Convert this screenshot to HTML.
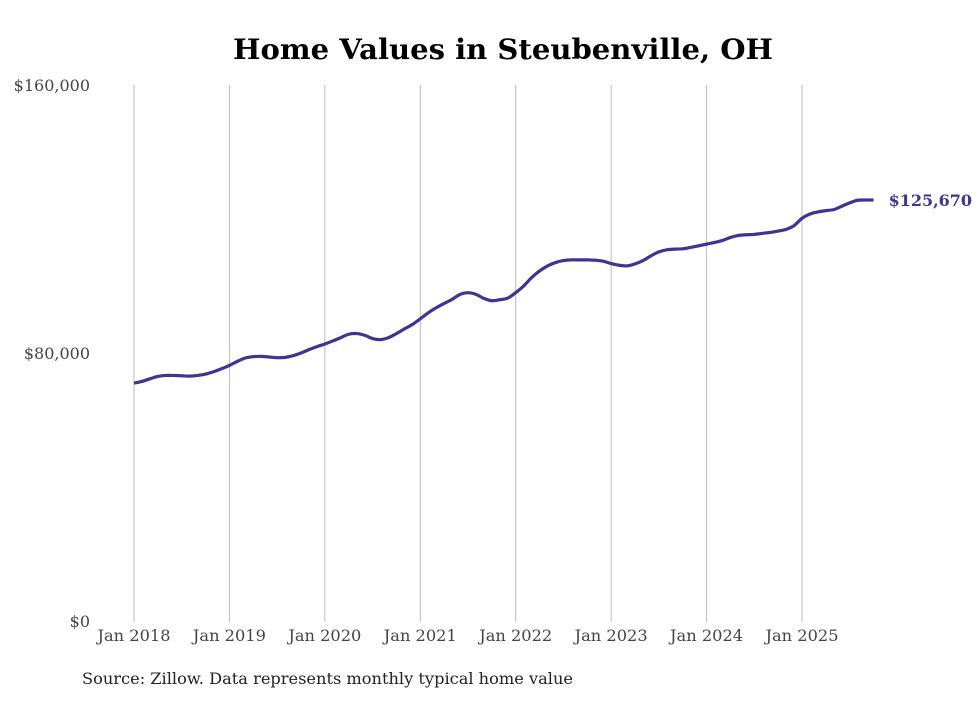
<!DOCTYPE html>
<html><head><meta charset="utf-8"><style>
body{margin:0;background:#fff;}
svg text{font-family:"DejaVu Serif","Liberation Serif",serif;}
</style></head><body>
<svg width="980" height="699" viewBox="0 0 980 699">
<text x="503" y="59" text-anchor="middle" font-size="28" font-weight="bold" fill="#000" textLength="540" lengthAdjust="spacingAndGlyphs">Home Values in Steubenville, OH</text>
<g id="grid"></g>
<g id="yax"></g>
<g id="xax"></g>
<path id="line" fill="none" stroke="#3d3494" stroke-width="3.2" stroke-linejoin="round"/>
<text id="endlabel" font-size="16" font-weight="bold" fill="#3d3494"></text>
<text x="82" y="684" font-size="16" fill="#222" textLength="491" lengthAdjust="spacingAndGlyphs">Source: Zillow. Data represents monthly typical home value</text>
</svg>
<script>
const xTickLabels = ["Jan 2018","Jan 2019","Jan 2020","Jan 2021","Jan 2022","Jan 2023","Jan 2024","Jan 2025"];
const yTickValues = [0, 80000, 160000];
const yTickLabels = ["$0","$80,000","$160,000"];
const values = [
71.0,71.5,72.3,73.0,73.3,73.3,73.2,73.1,73.3,73.7,74.4,75.3,
76.3,77.5,78.5,78.9,79.0,78.8,78.6,78.7,79.2,80.0,81.0,81.9,
82.7,83.6,84.6,85.6,85.8,85.3,84.3,84.0,84.6,85.8,87.2,88.5,
90.2,92.0,93.5,94.8,96.0,97.5,98.0,97.5,96.3,95.6,95.9,96.4,
98.0,100.0,102.5,104.5,106.0,107.0,107.6,107.8,107.8,107.8,107.7,107.4,
106.7,106.2,106.0,106.6,107.6,109.0,110.2,110.8,111.0,111.1,111.5,112.0,
112.5,113.0,113.6,114.5,115.1,115.3,115.4,115.7,116.0,116.4,116.9,118.0,
120.2,121.5,122.1,122.5,122.8,123.8,124.8,125.6,125.67,125.67
].map(v=>v*1000);
const endLabel = "$125,670";
const x = m => 134 + m*(802-134)/84;
const y = v => 621 - v/160000*536;
const NS="http://www.w3.org/2000/svg";
const grid=document.getElementById('grid'), xax=document.getElementById('xax'), yax=document.getElementById('yax');
xTickLabels.forEach((l,i)=>{
  const gx=x(i*12);
  const ln=document.createElementNS(NS,'line');
  ln.setAttribute('x1',gx);ln.setAttribute('x2',gx);ln.setAttribute('y1',85);ln.setAttribute('y2',622);
  ln.setAttribute('stroke','#bbb');ln.setAttribute('stroke-width','1');
  
  
  grid.appendChild(ln);
  const t=document.createElementNS(NS,'text');
  t.setAttribute('x',gx);t.setAttribute('y',641);t.setAttribute('text-anchor','middle');
  t.setAttribute('font-size','16');t.setAttribute('fill','#444');
  t.setAttribute('textLength','73');t.setAttribute('lengthAdjust','spacingAndGlyphs');
  t.textContent=l;
  
  
  xax.appendChild(t);
});
yTickValues.forEach((v,i)=>{
  const t=document.createElementNS(NS,'text');
  t.setAttribute('x',90);t.setAttribute('y',y(v)+6);t.setAttribute('text-anchor','end');
  t.setAttribute('font-size','16');t.setAttribute('fill','#444');
  t.textContent=yTickLabels[i];
  
  
  yax.appendChild(t);
});
const pts=values.map((v,i)=>[x(i),y(v)]);
let d=`M${pts[0][0]},${pts[0][1]}`;
for(let i=0;i<pts.length-1;i++){
  const p0=pts[Math.max(0,i-1)],p1=pts[i],p2=pts[i+1],p3=pts[Math.min(pts.length-1,i+2)];
  d+=` C${p1[0]+(p2[0]-p0[0])/6},${p1[1]+(p2[1]-p0[1])/6} ${p2[0]-(p3[0]-p1[0])/6},${p2[1]-(p3[1]-p1[1])/6} ${p2[0]},${p2[1]}`;
}
document.getElementById('line').setAttribute('d',d);
const last=pts[pts.length-1];
const el=document.getElementById('endlabel');
el.setAttribute('x',last[0]+15);el.setAttribute('y',last[1]+6);
el.textContent=endLabel;
</script>
</body></html>
